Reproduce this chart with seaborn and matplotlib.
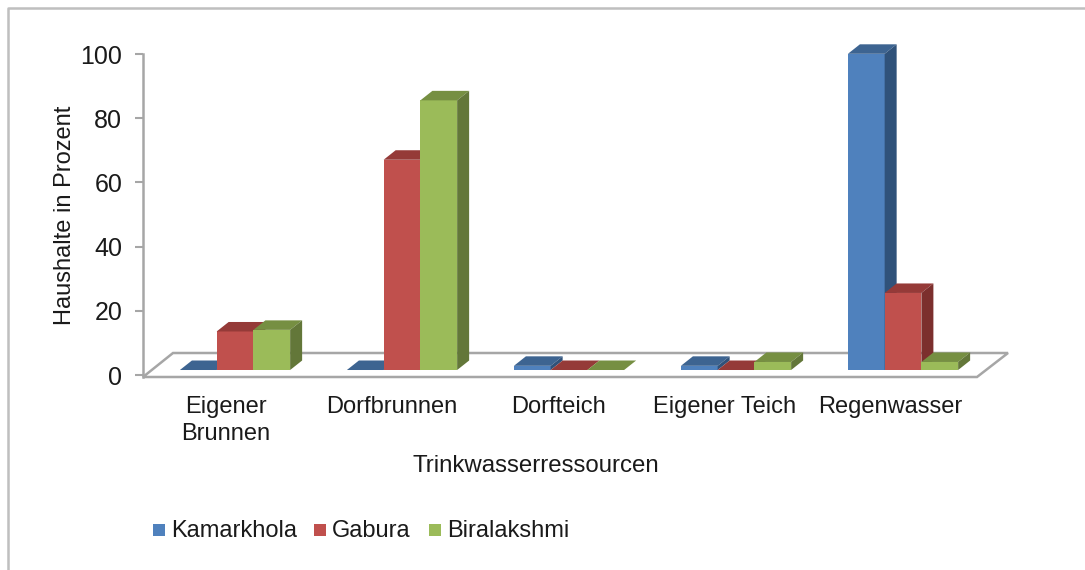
import pandas as pd
import seaborn as sns
import matplotlib.pyplot as plt
from matplotlib.patches import Polygon, Rectangle

kategorien = ['Eigener\nBrunnen', 'Dorfbrunnen', 'Dorfteich', 'Eigener Teich', 'Regenwasser']
kamarkhola = [0, 0, 1.3, 1.3, 98.5]
gabura = [12, 65.5, 0, 0, 24]
biralakshmi = [12.5, 84, 0, 2.5, 2.5]

farben = ['#4f81bd', '#c0504d', '#9bbb59']
farben_oben = ['#3d6491', '#953a38', '#768f42']
farben_seite = ['#30527a', '#7c2f2d', '#637739']
grau = '#a6a6a6'
text = '#1a1a1a'

df = pd.DataFrame({
    'Ressource': kategorien * 3,
    'Wert': kamarkhola + gabura + biralakshmi,
    'Dorf': ['Kamarkhola'] * 5 + ['Gabura'] * 5 + ['Biralakshmi'] * 5,
})

plt.rcParams['font.family'] = ['Liberation Sans', 'DejaVu Sans']

W, H = 1085, 570
fig = plt.figure(figsize=(W / 100, H / 100), dpi=100)
ax = fig.add_axes([143 / W, (H - 377) / H, 834 / W, 323 / H])

sns.barplot(data=df, x='Ressource', y='Wert', hue='Dorf', palette=farben,
            width=0.66, gap=0, saturation=1, legend=False, ax=ax)

ax.set_xlim(-0.551, 4.443)
ax.set_ylim(-0.62, 100)

# umrechnung pixel -> daten fuer die 3D-tiefe
px_x = 4.994 / 834
px_y = 100.62 / 323
dx = 12 * px_x
dy = 9.5 * px_y
boden = 1.56

# boden des diagramms
x0, x1 = ax.get_xlim()
y0 = ax.get_ylim()[0]
ax.add_patch(Polygon([(x0, y0), (x1, y0), (x1 + 31 * px_x, y0 + 24 * px_y), (x0 + 30 * px_x, y0 + 24 * px_y)],
                     closed=True, fc='white', ec=grau, lw=1.8, clip_on=False, zorder=1))

for k, container in enumerate(ax.containers):
    for bar in container:
        bar.set_y(boden)
        bar.set_zorder(3 + k)
        bar.set_clip_on(False)
        l = bar.get_x()
        r = l + bar.get_width()
        u = bar.get_y()
        o = u + bar.get_height()
        ax.add_patch(Polygon([(l, o), (r, o), (r + dx, o + dy), (l + dx, o + dy)], closed=True,
                             fc=farben_oben[k], ec='none', clip_on=False, zorder=3 + k))
        ax.add_patch(Polygon([(r, u), (r, o), (r + dx, o + dy), (r + dx, u + dy)], closed=True,
                             fc=farben_seite[k], ec='none', clip_on=False, zorder=3 + k))

for s in ['top', 'right', 'bottom']:
    ax.spines[s].set_visible(False)
ax.spines['left'].set_color(grau)
ax.spines['left'].set_linewidth(1.8)

ax.set_yticks([0, 20, 40, 60, 80, 100])
ax.tick_params(axis='y', length=6, width=1.5, color=grau, labelsize=18, labelcolor=text, pad=9)
ax.set_xticks([i * 0.995 - 0.055 for i in range(5)])
ax.set_xticklabels(kategorien, fontsize=17, linespacing=1.25, color=text)
ax.tick_params(axis='x', length=0, pad=14)

ax.set_ylabel('')
ax.set_xlabel('')
fig.text(65 / W, 1 - 215 / H, 'Haushalte in Prozent', rotation=90, ha='center', va='center', fontsize=17, color=text)
fig.text(536 / W, 1 - 466 / H, 'Trinkwasserressourcen', ha='center', va='center', fontsize=17.3, color=text)

# legende
eintraege = [('Kamarkhola', 153), ('Gabura', 314), ('Biralakshmi', 429)]
for k, (name, xp) in enumerate(eintraege):
    fig.add_artist(Rectangle((xp / W, 1 - 536 / H), 12 / W, 12 / H, transform=fig.transFigure,
                             fc=farben[k], ec='none'))
    fig.text((xp + 18) / W, 1 - 531 / H, name, ha='left', va='center', fontsize=17, color=text)

# rahmen
fig.add_artist(plt.Line2D([8 / W, 8 / W, 1], [0, 1 - 8 / H, 1 - 8 / H], color='#bfbfbf', lw=1.8))

fig.savefig('out.png', dpi=100)
